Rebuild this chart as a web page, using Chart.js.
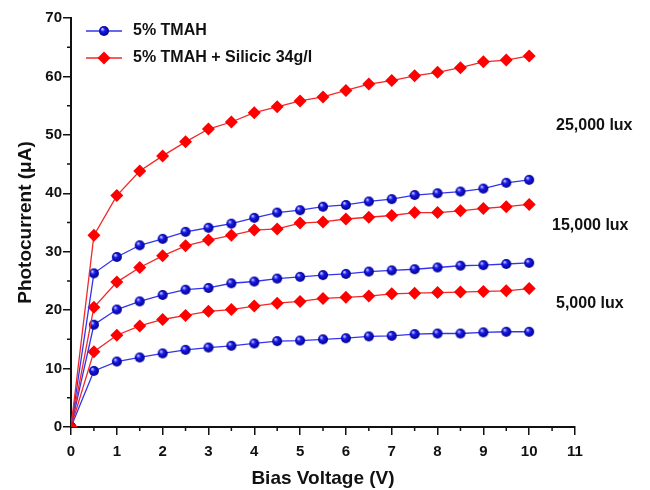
<!DOCTYPE html>
<html>
<head>
<meta charset="utf-8">
<script src="https://cdn.jsdelivr.net/npm/chart.js@4.4.0/dist/chart.umd.min.js"></script>
<style>
  body { margin: 0; background: #fff; }
</style>
</head>
<body>
<canvas id="myChart" width="650" height="490"></canvas>
<script>
// bias voltage (V)
const voltage = [0, 0.5, 1, 1.5, 2, 2.5, 3, 3.5, 4, 4.5, 5, 5.5, 6, 6.5, 7, 7.5, 8, 8.5, 9, 9.5, 10];

// photocurrent (uA), 5% TMAH + Silicic 34g/l
const silicic25k = [0, 32.8, 39.6, 43.8, 46.4, 48.8, 51.0, 52.2, 53.8, 54.8, 55.8, 56.5, 57.6, 58.7, 59.3, 60.1, 60.7, 61.5, 62.5, 62.8, 63.5];
const silicic15k = [0, 20.5, 24.8, 27.3, 29.3, 31.0, 32.0, 32.8, 33.7, 33.9, 34.9, 35.1, 35.6, 35.9, 36.2, 36.7, 36.7, 37.0, 37.4, 37.7, 38.1];
const silicic5k = [0, 12.9, 15.7, 17.3, 18.4, 19.1, 19.8, 20.1, 20.7, 21.2, 21.5, 22.0, 22.2, 22.4, 22.8, 22.9, 23.0, 23.1, 23.2, 23.3, 23.7];

// photocurrent (uA), 5% TMAH
const tmah25k = [0, 26.3, 29.1, 31.1, 32.2, 33.4, 34.1, 34.8, 35.8, 36.7, 37.1, 37.7, 38.0, 38.6, 39.0, 39.7, 40.0, 40.3, 40.8, 41.8, 42.3];
const tmah15k = [0, 17.5, 20.1, 21.5, 22.6, 23.5, 23.8, 24.6, 24.9, 25.4, 25.7, 26.0, 26.2, 26.6, 26.8, 27.0, 27.3, 27.6, 27.7, 27.9, 28.1];
const tmah5k = [0, 9.6, 11.2, 11.9, 12.6, 13.2, 13.6, 13.9, 14.3, 14.7, 14.8, 15.0, 15.2, 15.5, 15.6, 15.9, 16.0, 16.0, 16.2, 16.3, 16.3];

const seriesNames = ['5% TMAH', '5% TMAH + Silicic 34g/l'];
const luxLabels = [
  { text: '25,000 lux', y: 51.6, x: 556 },
  { text: '15,000 lux', y: 34.5, x: 552 },
  { text: '5,000 lux', y: 21.1, x: 556 }
];
const yMinor = [5, 15, 25, 35, 45, 55, 65];
const xMinor = [0.5, 1.5, 2.5, 3.5, 4.5, 5.5, 6.5, 7.5, 8.5, 9.5, 10.5];

const FONT = '"Liberation Sans", Arial, sans-serif';
const BLUE = '#3434ee';
const RED = '#f02828';

// shaded ball marker for the blue series
function makeBall(r) {
  const c = document.createElement('canvas');
  c.width = c.height = r * 2 + 2;
  const g = c.getContext('2d');
  const cx = r + 1;
  const grad = g.createRadialGradient(cx - r * 0.35, cx - r * 0.4, 0.5, cx, cx, r);
  grad.addColorStop(0, '#b8c0ff');
  grad.addColorStop(0.35, '#1a1aee');
  grad.addColorStop(1, '#00008a');
  g.fillStyle = grad;
  g.beginPath();
  g.arc(cx, cx, r, 0, Math.PI * 2);
  g.fill();
  return c;
}
const ball = makeBall(5);

function pts(vals) {
  return vals.map((v, i) => ({ x: voltage[i], y: v }));
}
function blueSet(vals) {
  return {
    label: seriesNames[0], data: pts(vals),
    borderColor: BLUE, borderWidth: 1.3,
    pointStyle: ball, pointRadius: 5, pointHoverRadius: 5
  };
}
function redSet(vals) {
  return {
    label: seriesNames[1], data: pts(vals),
    borderColor: RED, borderWidth: 1.3,
    pointStyle: 'rectRot', pointRadius: 6.5, pointHoverRadius: 6.5,
    pointBackgroundColor: '#ff0000', pointBorderColor: '#ff0000', pointBorderWidth: 0
  };
}

const decor = {
  id: 'decor',
  afterDraw(chart) {
    const ctx = chart.ctx;
    const xs = chart.scales.x, ys = chart.scales.y;
    const left = chart.chartArea.left, bottom = chart.chartArea.bottom;
    ctx.save();
    // minor ticks
    ctx.strokeStyle = '#111';
    ctx.lineWidth = 1.5;
    ctx.beginPath();
    yMinor.forEach(v => {
      const p = ys.getPixelForValue(v);
      ctx.moveTo(left - 4, p); ctx.lineTo(left, p);
    });
    xMinor.forEach(v => {
      const p = xs.getPixelForValue(v);
      ctx.moveTo(p, bottom); ctx.lineTo(p, bottom + 4);
    });
    ctx.stroke();

    // legend
    ctx.font = 'bold 16px ' + FONT;
    ctx.textBaseline = 'middle';
    ctx.fillStyle = '#111';
    const lx = 86, ly = [31, 58];
    ctx.lineWidth = 1.3;
    ctx.strokeStyle = BLUE;
    ctx.beginPath(); ctx.moveTo(lx, ly[0]); ctx.lineTo(lx + 36, ly[0]); ctx.stroke();
    ctx.drawImage(ball, lx + 18 - ball.width / 2, ly[0] - ball.height / 2);
    ctx.strokeStyle = RED;
    ctx.beginPath(); ctx.moveTo(lx, ly[1]); ctx.lineTo(lx + 36, ly[1]); ctx.stroke();
    ctx.fillStyle = '#ff0000';
    ctx.beginPath();
    ctx.moveTo(lx + 18, ly[1] - 6.5); ctx.lineTo(lx + 24.5, ly[1]);
    ctx.lineTo(lx + 18, ly[1] + 6.5); ctx.lineTo(lx + 11.5, ly[1]);
    ctx.closePath(); ctx.fill();
    ctx.fillStyle = '#111';
    ctx.fillText(seriesNames[0], 133, ly[0]);
    ctx.fillText(seriesNames[1], 133, ly[1]);

    // lux labels
    ctx.font = 'bold 16px ' + FONT;
    luxLabels.forEach(l => {
      ctx.fillText(l.text, l.x, ys.getPixelForValue(l.y));
    });
    ctx.restore();
  }
};

const ctx = document.getElementById('myChart').getContext('2d');
const myChart = new Chart(ctx, {
  type: 'line',
  data: {
    datasets: [
      redSet(silicic25k), blueSet(tmah25k),
      redSet(silicic15k), blueSet(tmah15k),
      redSet(silicic5k), blueSet(tmah5k)
    ]
  },
  options: {
    responsive: false,
    animation: false,
    layout: { padding: { left: 14, top: 18, right: 75, bottom: 0 } },
    plugins: { legend: { display: false }, tooltip: { enabled: false } },
    scales: {
      x: {
        type: 'linear', min: 0, max: 11,
        afterFit: s => { s.height = 63; },
        ticks: { stepSize: 1, color: '#111', font: { family: FONT, size: 15, weight: 'bold' }, padding: 8 },
        grid: { drawOnChartArea: false, color: '#111', lineWidth: 1.5, tickLength: 8 },
        border: { color: '#111', width: 2 },
        title: { display: true, text: 'Bias Voltage (V)', color: '#111', font: { family: FONT, size: 19, weight: 'bold' }, padding: 0 }
      },
      y: {
        min: 0, max: 70,
        afterFit: s => { s.width = 57; },
        ticks: { stepSize: 10, color: '#111', font: { family: FONT, size: 15, weight: 'bold' }, padding: 1 },
        grid: { drawOnChartArea: false, color: '#111', lineWidth: 1.5, tickLength: 8 },
        border: { color: '#111', width: 2 },
        title: { display: true, text: 'Photocurrent (\u03bcA)', color: '#111', font: { family: FONT, size: 19, weight: 'bold' }, padding: 0 }
      }
    }
  },
  plugins: [decor]
});
</script>
</body>
</html>
